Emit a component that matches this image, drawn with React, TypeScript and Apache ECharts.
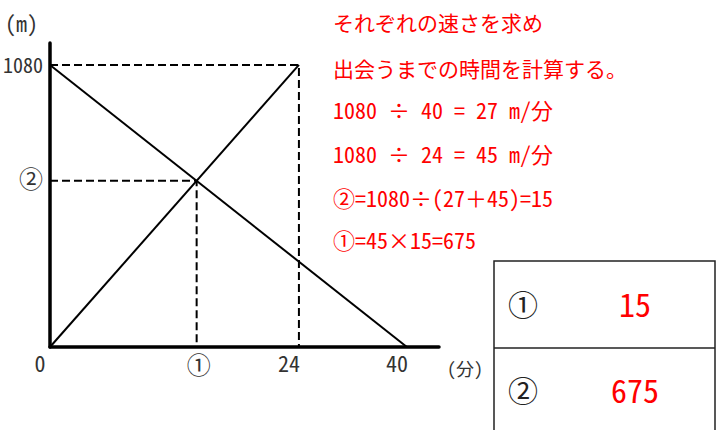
import React, { useEffect, useRef } from "react";
import * as echarts from "echarts";

// ---- data ----
const totalDistance = 1080; // m
const slowMinutes = 40; // walker A reaches 0 at 40 min
const fastMinutesLabel = "24"; // walker B reaches 1080 m at 24 min
const fastMinutesDrawnAt = 27.9; // the sketch is not to scale: "24" is drawn here on the time axis
const xAxisMax = 43.6;
const yAxisMax = 1164;
const xTickLabels = ["0", "①", fastMinutesLabel, "40"];
const yTickLabels = ["1080", "②"];
const distanceUnit = "(m)";
const timeUnit = "(分)";
const notes = [
  "それぞれの速さを求め",
  "出会うまでの時間を計算する。",
  "1080 ÷ 40 = 27 m/分",
  "1080 ÷ 24 = 45 m/分",
  "②=1080÷(27＋45)=15",
  "①=45×15=675",
];
const answerLabels = ["①", "②"];
const answerValues = ["15", "675"];

const FONT = '"Noto Sans Mono CJK JP", "Noto Sans CJK JP", sans-serif';

export default function App() {
  const ref = useRef<HTMLDivElement>(null);

  useEffect(() => {
    if (!ref.current) return;
    const chart = echarts.init(ref.current, null, { renderer: "svg" });

    // meeting point of the two straight lines
    const mx = 1 / (1 / fastMinutesDrawnAt + 1 / slowMinutes);
    const my = (totalDistance * mx) / fastMinutesDrawnAt;

    const xVals = [0, mx, fastMinutesDrawnAt, slowMinutes];
    const yVals = [totalDistance, my];

    const solid = { color: "#000", width: 2 };
    const dashed = { color: "#000", width: 2, type: [8, 4] as any };

    const noteY = [22, 68, 109, 153, 197, 239];
    const noteGraphics = notes.map((t, i) => ({
      type: "text",
      x: 333,
      y: noteY[i],
      style: {
        text: t,
        fill: "#ff0000",
        font: `${i < 2 ? 21 : 22}px ${FONT}`,
        textAlign: "left",
        textVerticalAlign: "middle",
      },
    }));

    const rowY = [303, 389];
    const tableGraphics: any[] = [
      {
        type: "rect",
        shape: { x: 494, y: 261, width: 221, height: 200 },
        style: { fill: "none", stroke: "#222", lineWidth: 1.5 },
      },
      {
        type: "line",
        shape: { x1: 494, y1: 348, x2: 715, y2: 348 },
        style: { stroke: "#222", lineWidth: 1.5 },
      },
    ];
    answerLabels.forEach((lab, i) => {
      tableGraphics.push({
        type: "text",
        x: 523,
        y: rowY[i],
        style: {
          text: lab,
          fill: "#222",
          font: `30px ${FONT}`,
          textAlign: "center",
          textVerticalAlign: "middle",
        },
      });
      tableGraphics.push({
        type: "text",
        x: 635,
        y: rowY[i],
        style: {
          text: answerValues[i],
          fill: "#ff0000",
          font: `32px ${FONT}`,
          textAlign: "center",
          textVerticalAlign: "middle",
        },
      });
    });

    chart.setOption({
      animation: false,
      backgroundColor: "#fff",
      grid: {
        left: 50,
        top: 43,
        right: 720 - 439,
        bottom: 430 - 347,
        containLabel: false,
        outerBoundsMode: "none",
      },
      xAxis: {
        type: "value",
        min: 0,
        max: xAxisMax,
        splitLine: { show: false },
        axisTick: { show: false },
        axisLine: { show: true, onZero: false, lineStyle: { color: "#000", width: 3.5 } },
        axisLabel: {
          customValues: xVals,
          margin: 4,
          color: "#333",
          fontFamily: FONT,
          formatter: (v: number) => {
            const i = xVals.findIndex((x) => Math.abs(x - v) < 1e-6);
            const lab = xTickLabels[i] ?? "";
            return lab === "①" ? `{c|${lab}}` : `{n|${lab}}`;
          },
          rich: {
            n: { fontSize: 22, fontFamily: FONT, color: "#333", padding: [0, 20, 0, 0] },
            c: { fontSize: 24, fontFamily: FONT, color: "#333", padding: [0, 0, 0, 4] },
          },
        },
      },
      yAxis: {
        type: "value",
        min: 0,
        max: yAxisMax,
        splitLine: { show: false },
        axisTick: { show: false },
        axisLine: { show: true, onZero: false, lineStyle: { color: "#000", width: 3.5 } },
        axisLabel: {
          customValues: yVals,
          margin: 7,
          color: "#333",
          fontFamily: FONT,
          formatter: (v: number) => {
            const i = yVals.findIndex((y) => Math.abs(y - v) < 1e-6);
            const lab = yTickLabels[i] ?? "";
            return lab === "②" ? `{c|${lab}}` : `{n|${lab}}`;
          },
          rich: {
            n: { fontSize: 20, fontFamily: FONT, color: "#333" },
            c: { fontSize: 24, fontFamily: FONT, color: "#333", padding: [0, 0, 6, 0] },
          },
        },
      },
      series: [
        {
          type: "line",
          data: [
            [0, 0],
            [fastMinutesDrawnAt, totalDistance],
          ],
          symbol: "none",
          lineStyle: solid,
          silent: true,
        },
        {
          type: "line",
          data: [
            [0, totalDistance],
            [slowMinutes, 0],
          ],
          symbol: "none",
          lineStyle: solid,
          silent: true,
        },
        {
          type: "line",
          data: [
            [0, totalDistance],
            [fastMinutesDrawnAt, totalDistance],
            [fastMinutesDrawnAt, 0],
          ],
          symbol: "none",
          lineStyle: dashed,
          silent: true,
        },
        {
          type: "line",
          data: [
            [0, my],
            [mx, my],
            [mx, 0],
          ],
          symbol: "none",
          lineStyle: dashed,
          silent: true,
        },
      ],
      graphic: [
        {
          type: "text",
          x: 5,
          y: 22,
          style: {
            text: distanceUnit,
            fill: "#333",
            font: `22px ${FONT}`,
            textAlign: "left",
            textVerticalAlign: "middle",
          },
        },
        {
          type: "text",
          x: 447,
          y: 368,
          style: {
            text: timeUnit,
            fill: "#333",
            font: `18px ${FONT}`,
            textAlign: "left",
            textVerticalAlign: "middle",
          },
        },
        ...noteGraphics,
        ...tableGraphics,
      ],
    });

    return () => chart.dispose();
  }, []);

  return (
    <div
      ref={ref}
      style={{ position: "absolute", left: 0, top: 0, width: 720, height: 430 }}
    />
  );
}
